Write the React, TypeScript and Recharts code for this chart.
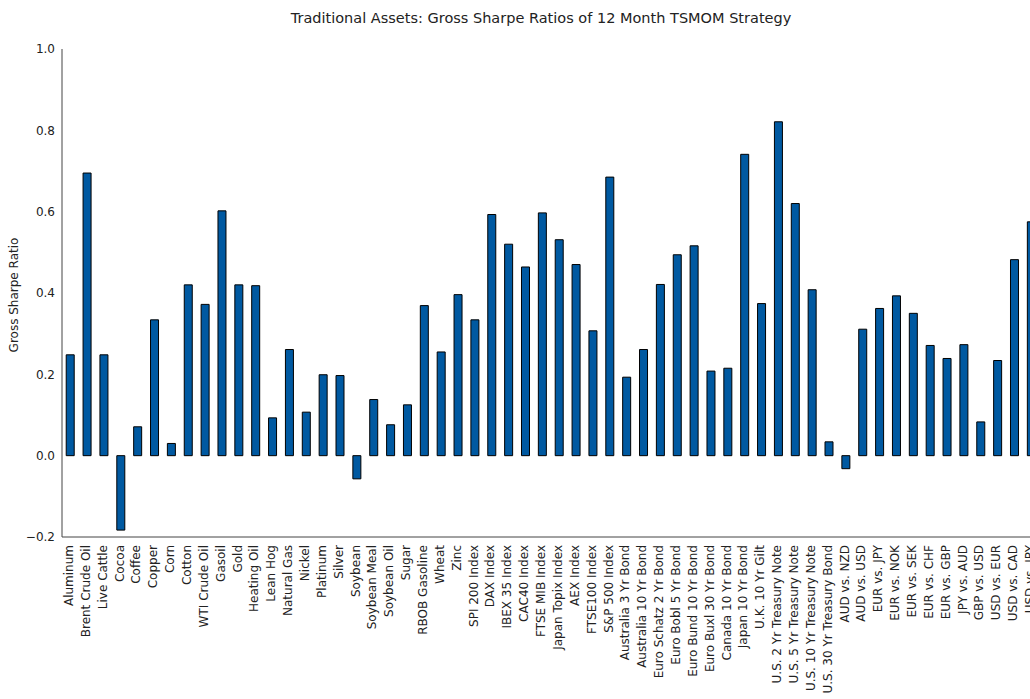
import { Bar, BarChart, XAxis, YAxis } from 'recharts';

// 资产名称(从左到右)
const assets = [
  'Aluminum', 'Brent Crude Oil', 'Live Cattle', 'Cocoa', 'Coffee', 'Copper', 'Corn', 'Cotton',
  'WTI Crude Oil', 'Gasoil', 'Gold', 'Heating Oil', 'Lean Hog', 'Natural Gas', 'Nickel',
  'Platinum', 'Silver', 'Soybean', 'Soybean Meal', 'Soybean Oil', 'Sugar', 'RBOB Gasoline',
  'Wheat', 'Zinc', 'SPI 200 Index', 'DAX Index', 'IBEX 35 Index', 'CAC40 Index',
  'FTSE MIB Index', 'Japan Topix Index', 'AEX Index', 'FTSE100 Index', 'S&P 500 Index',
  'Australia 3 Yr Bond', 'Australia 10 Yr Bond', 'Euro Schatz 2 Yr Bond', 'Euro Bobl 5 Yr Bond',
  'Euro Bund 10 Yr Bond', 'Euro Buxl 30 Yr Bond', 'Canada 10 Yr Bond', 'Japan 10 Yr Bond',
  'U.K. 10 Yr Gilt', 'U.S. 2 Yr Treasury Note', 'U.S. 5 Yr Treasury Note',
  'U.S. 10 Yr Treasury Note', 'U.S. 30 Yr Treasury Bond', 'AUD vs. NZD', 'AUD vs. USD',
  'EUR vs. JPY', 'EUR vs. NOK', 'EUR vs. SEK', 'EUR vs. CHF', 'EUR vs. GBP', 'JPY vs. AUD',
  'GBP vs. USD', 'USD vs. EUR', 'USD vs. CAD', 'USD vs. JPY',
];

// Gross Sharpe ratio,与 assets 一一对应
const sharpe = [
  0.248, 0.695, 0.248, -0.183, 0.071, 0.334, 0.030, 0.420,
  0.372, 0.602, 0.420, 0.418, 0.093, 0.261, 0.107,
  0.199, 0.197, -0.057, 0.138, 0.076, 0.125, 0.369,
  0.255, 0.396, 0.334, 0.593, 0.520, 0.464,
  0.597, 0.531, 0.470, 0.307, 0.685,
  0.193, 0.261, 0.421, 0.494,
  0.516, 0.208, 0.215, 0.741,
  0.374, 0.821, 0.620,
  0.408, 0.034, -0.032, 0.311,
  0.362, 0.393, 0.350, 0.271, 0.239, 0.273,
  0.083, 0.234, 0.482, 0.575,
];

const yTicks = [-0.2, 0, 0.2, 0.4, 0.6, 0.8, 1.0];

const TITLE = 'Traditional Assets: Gross Sharpe Ratios of 12 Month TSMOM Strategy';
const FONT = '"DejaVu Sans", sans-serif';

const data = assets.map((name, i) => ({ name, v: sharpe[i] }));

function RotatedTick({ x, y, payload }: any) {
  return (
    <g transform={`translate(${x},${y + 8})`}>
      <text textAnchor="end" transform="rotate(-90)" dy={2.5} fontSize={12} fill="#222">
        {payload.value}
      </text>
    </g>
  );
}

export default function App() {
  return (
    <div
      style={{
        position: 'absolute',
        left: 0,
        top: 0,
        width: 1030,
        height: 699,
        overflow: 'hidden',
        background: '#fff',
        fontFamily: FONT,
      }}
    >
      <div
        style={{
          position: 'absolute',
          left: 0,
          top: 9,
          width: 1082,
          textAlign: 'center',
          fontSize: 14.5,
          lineHeight: '18px',
          color: '#222',
          whiteSpace: 'nowrap',
        }}
      >
        {TITLE}
      </div>
      <div
        style={{
          position: 'absolute',
          left: 14,
          top: 295,
          transform: 'translate(-50%, -50%) rotate(-90deg)',
          fontSize: 12,
          color: '#222',
          whiteSpace: 'nowrap',
        }}
      >
        Gross Sharpe Ratio
      </div>
      <BarChart
        width={1050}
        height={699}
        data={data}
        margin={{ top: 49, right: 10, left: 0, bottom: 0 }}
        barCategoryGap="25%"
      >
        <XAxis
          dataKey="name"
          interval={0}
          height={162}
          tick={<RotatedTick />}
          tickLine={false}
          tickSize={0}
          tickMargin={0}
          axisLine={{ stroke: '#444', strokeWidth: 1 }}
        />
        <YAxis
          width={62}
          type="number"
          domain={[-0.2, 1.0]}
          ticks={yTicks}
          allowDataOverflow
          tickLine={false}
          tickSize={0}
          tickMargin={7}
          axisLine={{ stroke: '#444', strokeWidth: 1 }}
          tick={{ fontSize: 12, fill: '#222' }}
          tickFormatter={(v: number) => v.toFixed(1).replace('-', '\u2212')}
        />
        <Bar dataKey="v" fill="#0059A1" stroke="#000" strokeWidth={1} isAnimationActive={false} />
      </BarChart>
    </div>
  );
}
